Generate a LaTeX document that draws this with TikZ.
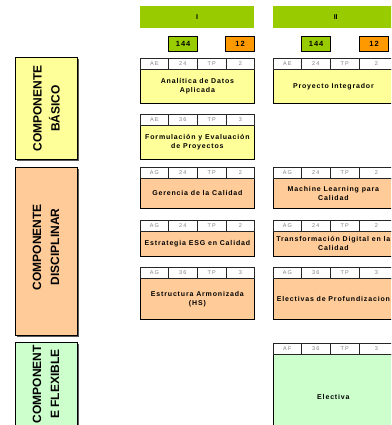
\documentclass[tikz,border=0pt]{standalone}
\usepackage{fontspec}
\setmainfont{Liberation Sans}
\newfontfamily\spaced[LetterSpace=12]{Liberation Sans}
\newfontfamily\cellspaced[LetterSpace=20]{Liberation Sans}
\definecolor{cyellow}{HTML}{FFFF99}
\definecolor{corange}{HTML}{FFCC99}
\definecolor{cgreen}{HTML}{CCFFCC}
\definecolor{hgreen}{HTML}{99CC00}
\definecolor{horange}{HTML}{FF9900}
\definecolor{cellgray}{HTML}{808080}

\def\xAa{140}\def\xAb{168}\def\xAc{197}\def\xAd{226}\def\xAe{254}
\def\xBa{273}\def\xBb{301}\def\xBc{330}\def\xBd{359}\def\xBe{393}

\def\splitfour#1/#2/#3/#4\relax{\def\ca{#1}\def\cb{#2}\def\cc{#3}\def\cd{#4}}

\tikzset{
  body/.style={draw=black, line width=0.8pt, inner sep=1pt, align=center,
    font=\spaced\bfseries\fontsize{7}{9}\selectfont, text=black},
  cell/.style={draw=black!85, line width=0.6pt, fill=white, minimum height=11pt,
    inner sep=0pt, font=\cellspaced\fontsize{5.5}{6}\selectfont, text=cellgray},
  hbar/.style={fill=hgreen, minimum height=22pt, inner sep=0pt,
    font=\bfseries\fontsize{7}{8}\selectfont, anchor=north west},
  num/.style={draw=black, line width=1.2pt, minimum width=29pt, minimum height=15pt,
    inner sep=0pt, font=\spaced\bfseries\fontsize{7.5}{8}\selectfont, anchor=north west},
  lab/.style={draw=black, line width=1pt, inner sep=0pt, anchor=north west,
    minimum width=62pt,
    preaction={fill=black!65, transform canvas={xshift=1.5pt,yshift=-1.5pt}}},
  labtext/.style={rotate=90, align=center, inner sep=0pt,
    font=\bfseries\fontsize{12}{18}\selectfont},
}

\newcommand\course[7]{%
  \splitfour#6\relax
  \edef\xa{\csname x#2a\endcsname}\edef\xb{\csname x#2b\endcsname}%
  \edef\xc{\csname x#2c\endcsname}\edef\xd{\csname x#2d\endcsname}%
  \edef\xe{\csname x#2e\endcsname}%
  \node[body, fill=#5, minimum width={(\xe-\xa)*1pt},
        minimum height={(#4-#3-11)*1pt}, anchor=north west] (#1) at (\xa,{#3+11}) {#7};
  \node[cell, minimum width={(\xb-\xa)*1pt}, anchor=north west] (#1-c1) at (\xa,#3) {\ca};
  \node[cell, minimum width={(\xc-\xb)*1pt}, anchor=north west] (#1-c2) at (\xb,#3) {\cb};
  \node[cell, minimum width={(\xd-\xc)*1pt}, anchor=north west] (#1-c3) at (\xc,#3) {\cc};
  \node[cell, minimum width={(\xe-\xd)*1pt}, anchor=north west] (#1-c4) at (\xd,#3) {\cd};
}

\begin{document}
\begin{tikzpicture}[x=1pt, y=-1pt]
\useasboundingbox (0,0) rectangle (391,425);
\clip (0,0) rectangle (391,425);

% semester headers
\node[hbar, minimum width=114pt] (semI) at (140,6) {I};
\node[hbar, minimum width=125pt] (semII) at (273,6) {II};
\node[num, fill=hgreen] (crI) at (168,36) {144};
\node[num, fill=horange] (cdI) at (225,36) {12};
\node[num, fill=hgreen] (crII) at (301,36) {144};
\node[num, fill=horange] (cdII) at (359,36) {12};

% component labels
\node[lab, fill=cyellow, minimum height=102pt] (basico) at (15,57) {};
\node[labtext] (basicotxt) at (basico.center) {COMPONENTE\\BÁSICO};
\node[lab, fill=corange, minimum height=168pt] (discip) at (15,167) {};
\node[labtext] (disciptxt) at (46,247) {COMPONENTE\\DISCIPLINAR};
\node[lab, fill=cgreen, minimum height=100pt] (flex) at (15,342) {};
\node[labtext, anchor=east] (flextxt) at (46,345) {COMPONENT\\E FLEXIBLE};

% courses, semester I
\course{analitica}{A}{58}{103}{cyellow}{AE/24/TP/2}{Analítica de Datos\\Aplicada}
\course{formulacion}{A}{114}{159}{cyellow}{AE/36/TP/3}{Formulación y Evaluación\\de Proyectos}
\course{gerencia}{A}{167}{208}{corange}{AG/24/TP/2}{Gerencia de la Calidad}
\course{esg}{A}{220}{256}{corange}{AG/24/TP/2}{Estrategia ESG en Calidad}
\course{estructura}{A}{267}{319}{corange}{AG/36/TP/3}{Estructura Armonizada\\(HS)}

% courses, semester II
\course{integrador}{B}{58}{103}{cyellow}{AE/24/TP/2}{Proyecto Integrador}
\course{machine}{B}{167}{208}{corange}{AG/24/TP/2}{Machine Learning para\\Calidad}
\course{transf}{B}{220}{256}{corange}{AG/24/TP/2}{Transformación Digital en la\\Calidad}
\course{electivas}{B}{267}{319}{corange}{AG/36/TP/3}{Electivas de Profundizacion}
\course{electiva}{B}{343}{440}{cgreen}{AF/36/TP/3}{Electiva}
\end{tikzpicture}
\end{document}
